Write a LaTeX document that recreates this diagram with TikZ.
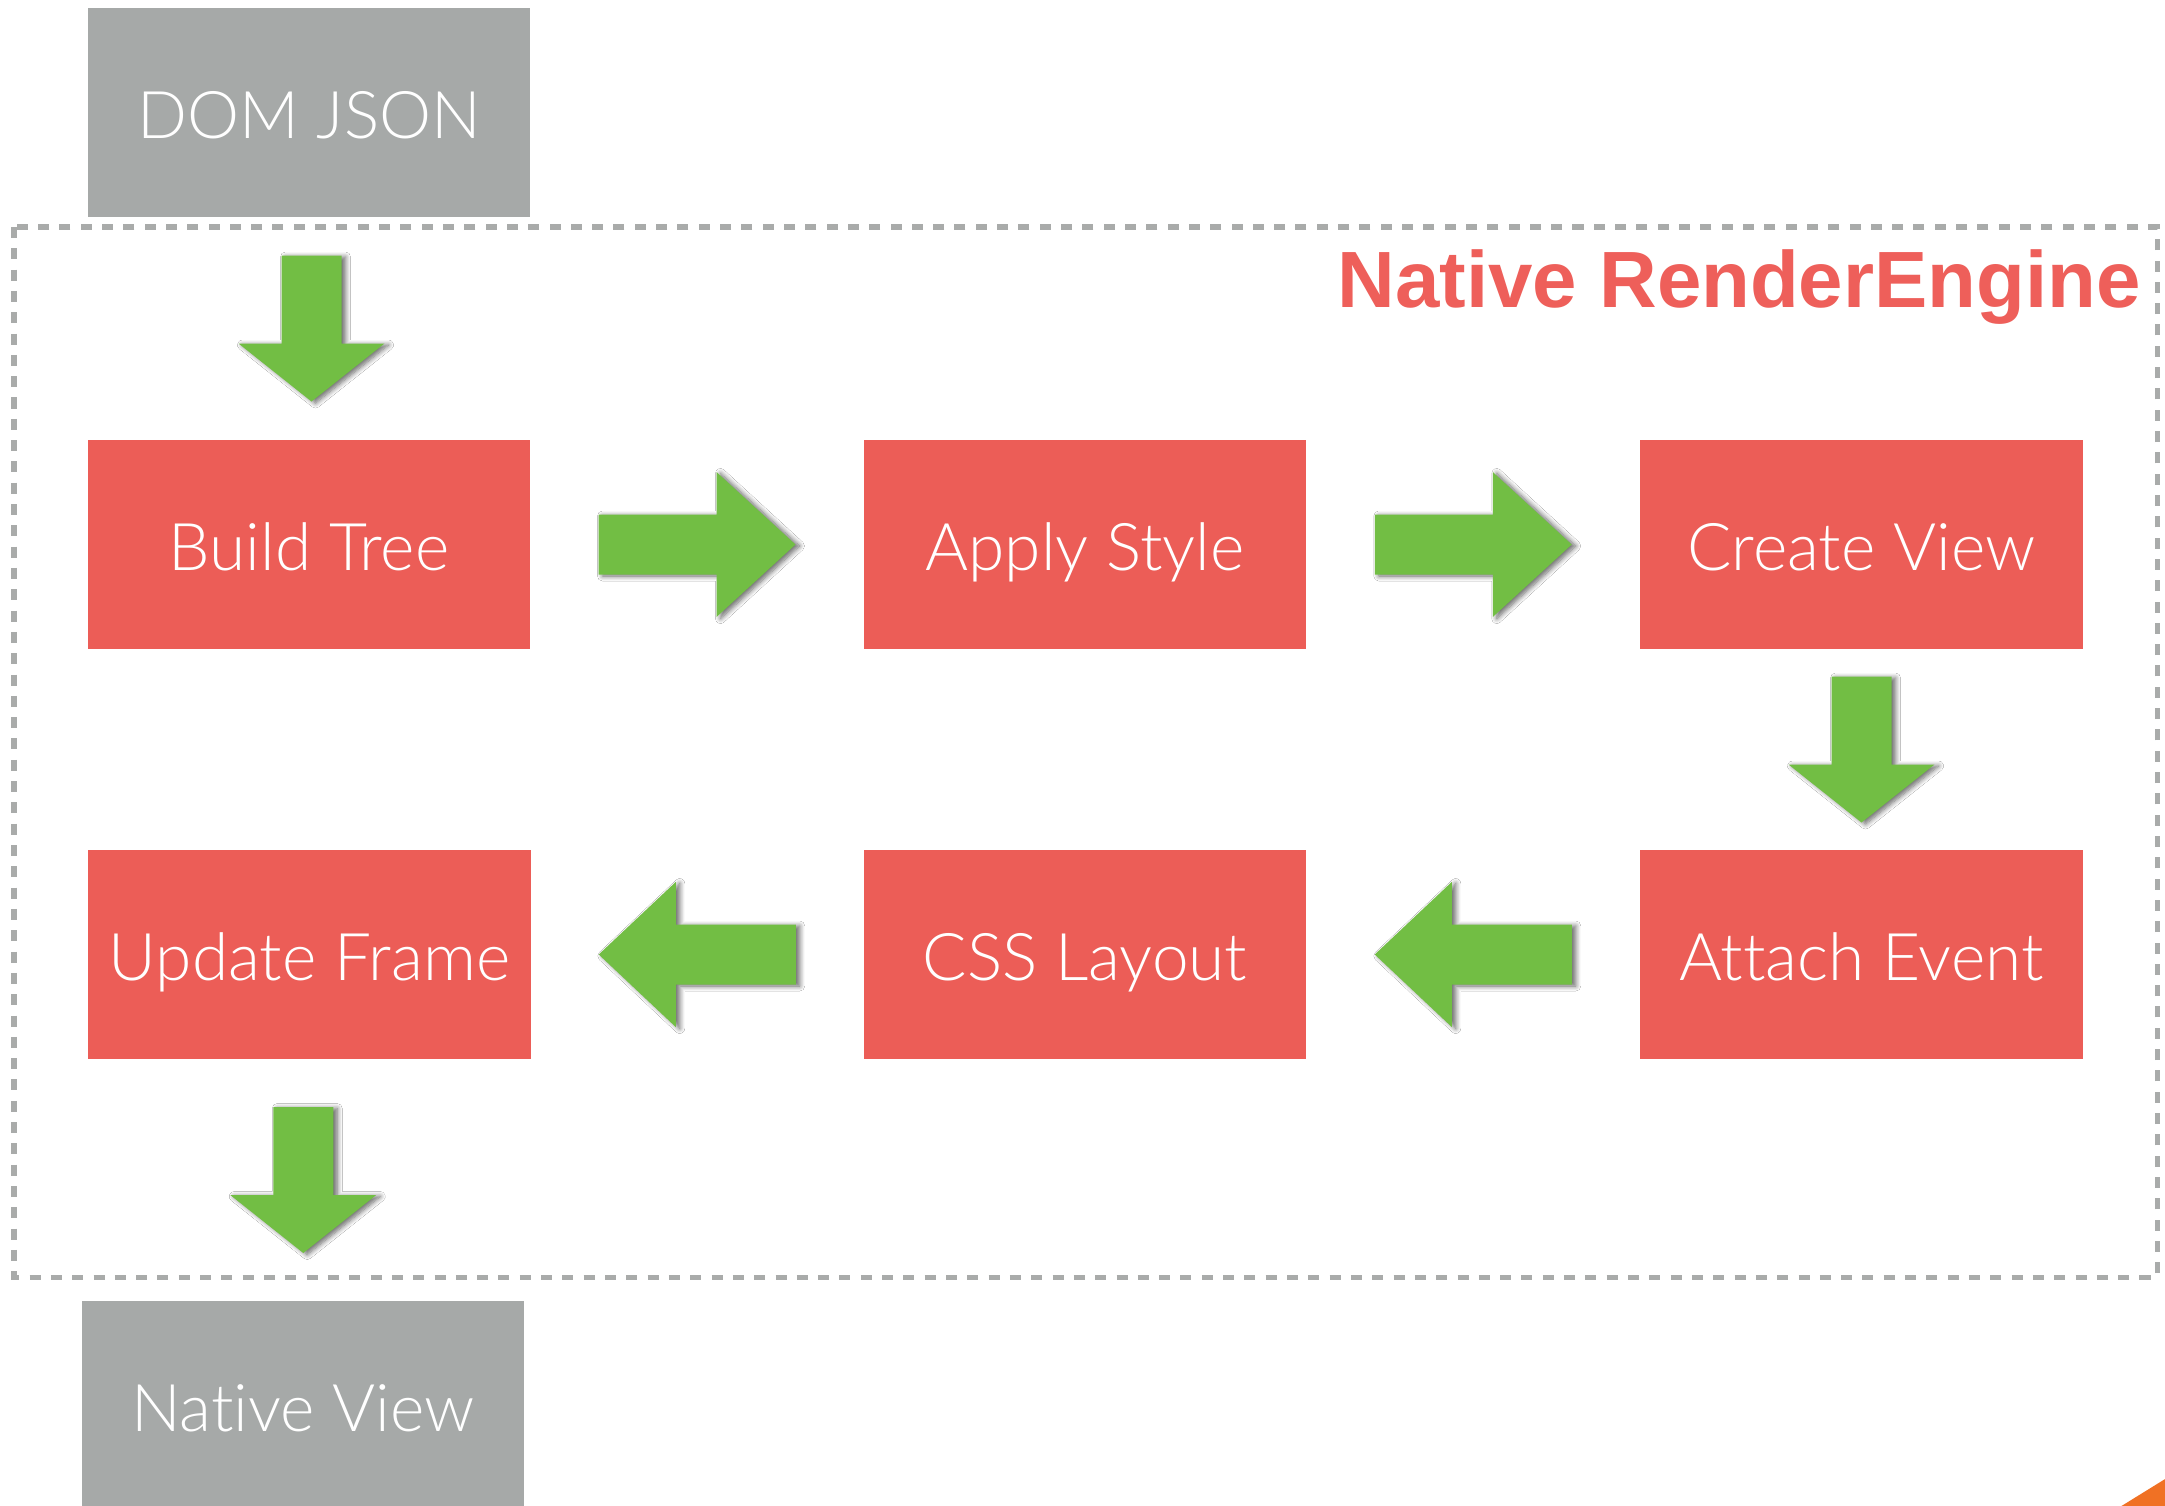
\documentclass[tikz,border=0pt]{standalone}
\usepackage{fontspec}
\setmainfont{Liberation Sans}
\newfontfamily\boxfont{Lato Light}[Ligatures=NoCommon]
\newfontfamily\titlefont{Liberation Sans}
\usetikzlibrary{calc,shadows.blur}
\definecolor{boxred}{HTML}{EC5D57}
\definecolor{boxgray}{HTML}{A6A9A8}
\definecolor{arrgreen}{HTML}{72BE44}
\definecolor{titlered}{HTML}{EE5F5A}
\definecolor{dashgray}{HTML}{A9ABAA}
\definecolor{cornerorange}{HTML}{F07124}
\tikzset{
  box/.style={minimum width=4.42cm, minimum height=2.09cm, inner sep=0pt,
    text=white, font=\boxfont\fontsize{18.7}{22}\selectfont,
    text height=0.51cm, text depth=0pt},
  redbox/.style={box, fill=boxred},
  graybox/.style={box, fill=boxgray},
  arrowfill/.style={fill=arrgreen, blur shadow={shadow xshift=0.04cm, shadow yshift=-0.015cm,
    shadow blur radius=0.05cm, shadow blur steps=8, shadow opacity=60}},
  rarrow/.pic={\fill[arrowfill] (-98.5,-30) -- (19.5,-30) -- (19.5,-72.5) -- (98.5,0)
     -- (19.5,72.5) -- (19.5,30) -- (-98.5,30) -- cycle;},
  larrow/.pic={\fill[arrowfill] (98.5,-30) -- (-21.5,-30) -- (-21.5,-72.5) -- (-98.5,0)
     -- (-21.5,72.5) -- (-21.5,30) -- (98.5,30) -- cycle;},
  darrow/.pic={\fill[arrowfill] (-30,-73) -- (30,-73) -- (30,15) -- (73,15) -- (0,73)
     -- (-73,15) -- (-30,15) -- cycle;},
}
\begin{document}
\begin{tikzpicture}[x=0.01cm, y=-0.01cm]
\useasboundingbox (0,0) rectangle (2165,1506);
\clip (0,0) rectangle (2165,1506);
\fill[white] (0,0) rectangle (2165,1506);

% engine frame
\draw[dashgray, line width=0.05cm, dash pattern=on 0.11cm off 0.103cm] (14,227) rectangle (2157,1277);
\node[anchor=base west, inner sep=0pt, text=titlered, font=\titlefont\bfseries\fontsize{22.7}{26}\selectfont] (title) at (1337,307) {Native RenderEngine};

% boxes
\node[graybox] (dom) at (309,112.5) {DOM JSON};
\node[redbox] (bt) at (309,544.5) {Build Tree};
\node[redbox] (as) at (1085,544.5) {Apply Style};
\node[redbox] (cv) at (1861.5,544.5) {Create View};
\node[redbox] (ae) at (1861.5,954.5) {Attach Event};
\node[redbox] (cl) at (1085,954.5) {CSS Layout};
\node[redbox] (uf) at (309.5,954.5) {Update Frame};
\node[graybox] (nv) at (303,1405.5) {Native View};

% arrows
\pic at ($(dom.south)!0.5!(bt.north)+(2.5,0)$) {darrow};
\pic at ($(bt.east)!0.5!(as.west)$) {rarrow};
\pic at ($(as.east)!0.5!(cv.west)$) {rarrow};
\pic at ($(cv.south)!0.5!(ae.north)$) {darrow};
\pic at ($(ae.west)!0.5!(cl.east)$) {larrow};
\pic at ($(cl.west)!0.5!(uf.east)$) {larrow};
\pic at ($(uf.south)!0.5!(nv.north)-(3,0)$) {darrow};

% corner wedge
\fill[cornerorange] (2115,1510) -- (2170,1476) -- (2170,1510) -- cycle;
\end{tikzpicture}
\end{document}
